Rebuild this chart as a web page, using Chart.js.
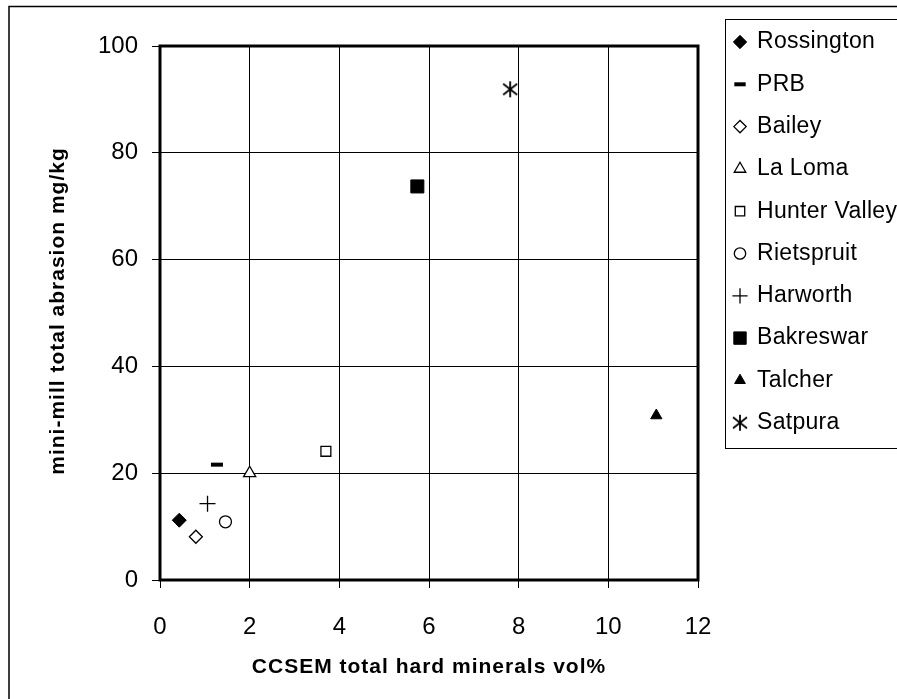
<!DOCTYPE html>
<html>
<head>
<meta charset="utf-8">
<script src="https://cdn.jsdelivr.net/npm/chart.js@4/dist/chart.umd.min.js"></script>
<style>
  html, body { margin: 0; padding: 0; background: #fff; overflow: hidden; }
  #wrap { width: 897px; height: 699px; position: relative; }
</style>
</head>
<body>
<div id="wrap"><canvas id="abrasion-chart"></canvas></div>
<script>
// Data
const coalNames = ['Rossington', 'PRB', 'Bailey', 'La Loma', 'Hunter Valley',
                   'Rietspruit', 'Harworth', 'Bakreswar', 'Talcher', 'Satpura'];
const hardMinerals = [0.43, 1.27, 0.8, 2.0, 3.7, 1.46, 1.06, 5.74, 11.07, 7.81];   // vol%
const abrasion     = [11.2, 21.6, 8.1, 20.0, 24.1, 10.9, 14.3, 73.7, 30.8, 91.9]; // mg/kg
const xTicks = [0, 2, 4, 6, 8, 10, 12];
const yTicks = [0, 20, 40, 60, 80, 100];
const xTitle = 'CCSEM total hard minerals vol%';
const yTitle = 'mini-mill total abrasion mg/kg';

const FONT = '"Liberation Sans", Arial, sans-serif';

// asterisk marker for Satpura (vertical bar + X)
function asteriskMarker() {
    const c = document.createElement('canvas');
    c.width = 18; c.height = 18;
    const g = c.getContext('2d');
    g.strokeStyle = '#000';
    g.lineWidth = 1.8;
    g.beginPath();
    g.moveTo(9, 1); g.lineTo(9, 17);
    g.moveTo(2, 3.5); g.lineTo(16, 14.5);
    g.moveTo(16, 3.5); g.lineTo(2, 14.5);
    g.stroke();
    return c;
}

// marker look for each series, same order as coalNames
const markers = [
    { pointStyle: 'rectRot',  radius: 7,   fill: '#000', width: 1 },
    { pointStyle: 'line',     radius: 6,   fill: '#000', width: 4 },
    { pointStyle: 'rectRot',  radius: 6.5, fill: '#fff', width: 1.3 },
    { pointStyle: 'triangle', radius: 7,   fill: '#fff', width: 1.3 },
    { pointStyle: 'rect',     radius: 7,   fill: '#fff', width: 1.3 },
    { pointStyle: 'circle',   radius: 6,   fill: '#fff', width: 1.3 },
    { pointStyle: 'cross',    radius: 8,   fill: '#000', width: 1.3 },
    { pointStyle: 'rect',     radius: 9.2, fill: '#000', width: 1 },
    { pointStyle: 'triangle', radius: 6.5, fill: '#000', width: 1 },
    { pointStyle: asteriskMarker(), radius: 9, fill: '#000', width: 1 }
];

const datasets = coalNames.map((name, i) => ({
    label: name,
    data: [{ x: hardMinerals[i], y: abrasion[i] }],
    pointStyle: markers[i].pointStyle,
    pointRadius: markers[i].radius,
    pointHoverRadius: markers[i].radius,
    backgroundColor: markers[i].fill,
    borderColor: '#000',
    borderWidth: markers[i].width
}));

// thick frame round the plot area, outer chart border, axis titles, legend box
const framePlugin = {
    id: 'frame',
    beforeDraw(chart) {
        const ctx = chart.ctx;
        ctx.save();
        ctx.fillStyle = '#fff';
        ctx.fillRect(0, 0, chart.width, chart.height);
        ctx.strokeStyle = '#000';
        ctx.lineWidth = 1.5;
        ctx.strokeRect(9, 6.5, chart.width + 20, chart.height + 20);
        ctx.restore();
    },
    afterDatasetsDraw(chart) {
        const { ctx, chartArea: a } = chart;
        ctx.save();
        ctx.strokeStyle = '#000';
        ctx.lineWidth = 3;
        ctx.strokeRect(a.left, a.top, a.right - a.left, a.bottom - a.top);
        ctx.restore();
    },
    afterDraw(chart) {
        const { ctx, chartArea: a } = chart;
        ctx.save();
        // axis titles
        ctx.fillStyle = '#000';
        ctx.font = 'bold 21px ' + FONT;
        ctx.letterSpacing = '1px';
        ctx.textAlign = 'center';
        ctx.textBaseline = 'middle';
        ctx.fillText(xTitle, (a.left + a.right) / 2, 667);
        ctx.save();
        ctx.translate(58, (a.top + a.bottom) / 2 - 2);
        ctx.rotate(-Math.PI / 2);
        ctx.fillText(yTitle, 0, 0);
        ctx.restore();

        // legend
        ctx.fillStyle = '#fff';
        ctx.fillRect(725, 19, 200, 430);
        ctx.strokeStyle = '#000';
        ctx.lineWidth = 1;
        ctx.strokeRect(725.5, 19.5, 200, 429);
        ctx.font = '23px ' + FONT;
        ctx.letterSpacing = '0.3px';
        ctx.textAlign = 'left';
        ctx.textBaseline = 'middle';
        chart.data.datasets.forEach((ds, i) => {
            const y = 42 + i * 42.3;
            ctx.fillStyle = ds.backgroundColor;
            ctx.strokeStyle = ds.borderColor;
            ctx.lineWidth = ds.borderWidth;
            Chart.helpers.drawPoint(ctx, {
                pointStyle: ds.pointStyle,
                radius: ds.pointRadius * 0.95,
                rotation: 0,
                borderWidth: ds.borderWidth
            }, 740, y);
            ctx.fillStyle = '#000';
            ctx.fillText(ds.label, 757, y);
        });
        ctx.restore();
    }
};

const tickFont = { family: FONT, size: 24 };

const config = {
    type: 'scatter',
    data: { datasets: datasets },
    options: {
        responsive: true,
        maintainAspectRatio: false,
        animation: false,
        events: [],
        layout: { padding: { left: 0, top: 46, right: 199, bottom: 0 } },
        plugins: {
            legend: { display: false },
            tooltip: { enabled: false }
        },
        scales: {
            x: {
                type: 'linear',
                min: 0,
                max: 12,
                afterBuildTicks: s => { s.ticks = xTicks.map(v => ({ value: v })); },
                afterFit: s => { s.height = 119; },
                grid: { color: '#000', lineWidth: 1, tickLength: 8, tickColor: '#000' },
                border: { display: false },
                ticks: { color: '#000', font: tickFont, padding: 25, maxRotation: 0 }
            },
            y: {
                type: 'linear',
                min: 0,
                max: 100,
                afterBuildTicks: s => { s.ticks = yTicks.map(v => ({ value: v })); },
                afterFit: s => { s.width = 160; },
                grid: { color: '#000', lineWidth: 1, tickLength: 8, tickColor: '#000' },
                border: { display: false },
                ticks: { color: '#000', font: tickFont, padding: 14 }
            }
        }
    },
    plugins: [framePlugin]
};

const abrasionChart = new Chart(document.getElementById('abrasion-chart'), config);
</script>
</body>
</html>
